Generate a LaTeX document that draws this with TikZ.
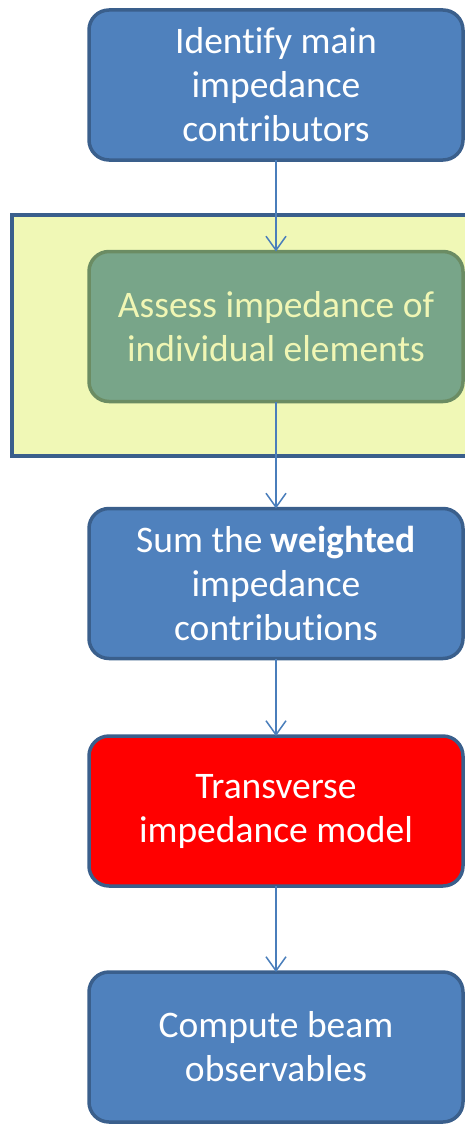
\documentclass[tikz,border=0pt]{standalone}
\usepackage{fontspec}
\setmainfont{Carlito}[Ligatures=NoCommon]
\usetikzlibrary{arrows.meta}
\definecolor{stepfill}{HTML}{4F81BD}
\definecolor{stepborder}{HTML}{3A5F8C}
\definecolor{groupfill}{HTML}{F0F8B6}
\definecolor{greenfill}{HTML}{78A589}
\definecolor{greenborder}{HTML}{6B8C63}
\definecolor{greentext}{HTML}{F0F6B4}
\definecolor{linkcol}{HTML}{4A7EBB}
\definecolor{modelred}{HTML}{FF0000}
\tikzset{
  stepbox/.style={draw=stepborder, line width=3.5pt, fill=stepfill, rounded corners=20pt,
    minimum width=374pt, minimum height=150pt, outer sep=0pt, inner sep=0pt,
    text=white, align=center, font=\fontsize{37.5}{44}\selectfont},
  link/.style={draw=linkcol, line width=1.5pt, -{Straight Barb[length=14pt,width=20pt,line width=1.5pt]}},
}
\begin{document}
\begin{tikzpicture}[x=1pt,y=-1pt]
\useasboundingbox (0,0) rectangle (464,1124);
% group frame behind the second step
\draw[draw=stepborder, line width=4pt, fill=groupfill] (12,215) rectangle (490,456);
\node[stepbox] (identify) at (276,85) {Identify main\\impedance\\contributors};
\node[stepbox, fill=greenfill, draw=greenborder, text=greentext] (assess) at (276,326.5) {Assess impedance of\\individual elements};
\node[stepbox] (sum) at (276,583.5) {Sum the \textbf{weighted}\\impedance\\contributions};
\node[stepbox, fill=modelred] (model) at (276,811) {Transverse\\impedance model};
\node[stepbox] (observe) at (276,1047) {Compute beam\\observables};
\draw[link] (identify) -- (assess);
\draw[link] (assess) -- (sum);
\draw[link] (sum) -- (model);
\draw[link] (model) -- (observe);
\end{tikzpicture}
\end{document}
